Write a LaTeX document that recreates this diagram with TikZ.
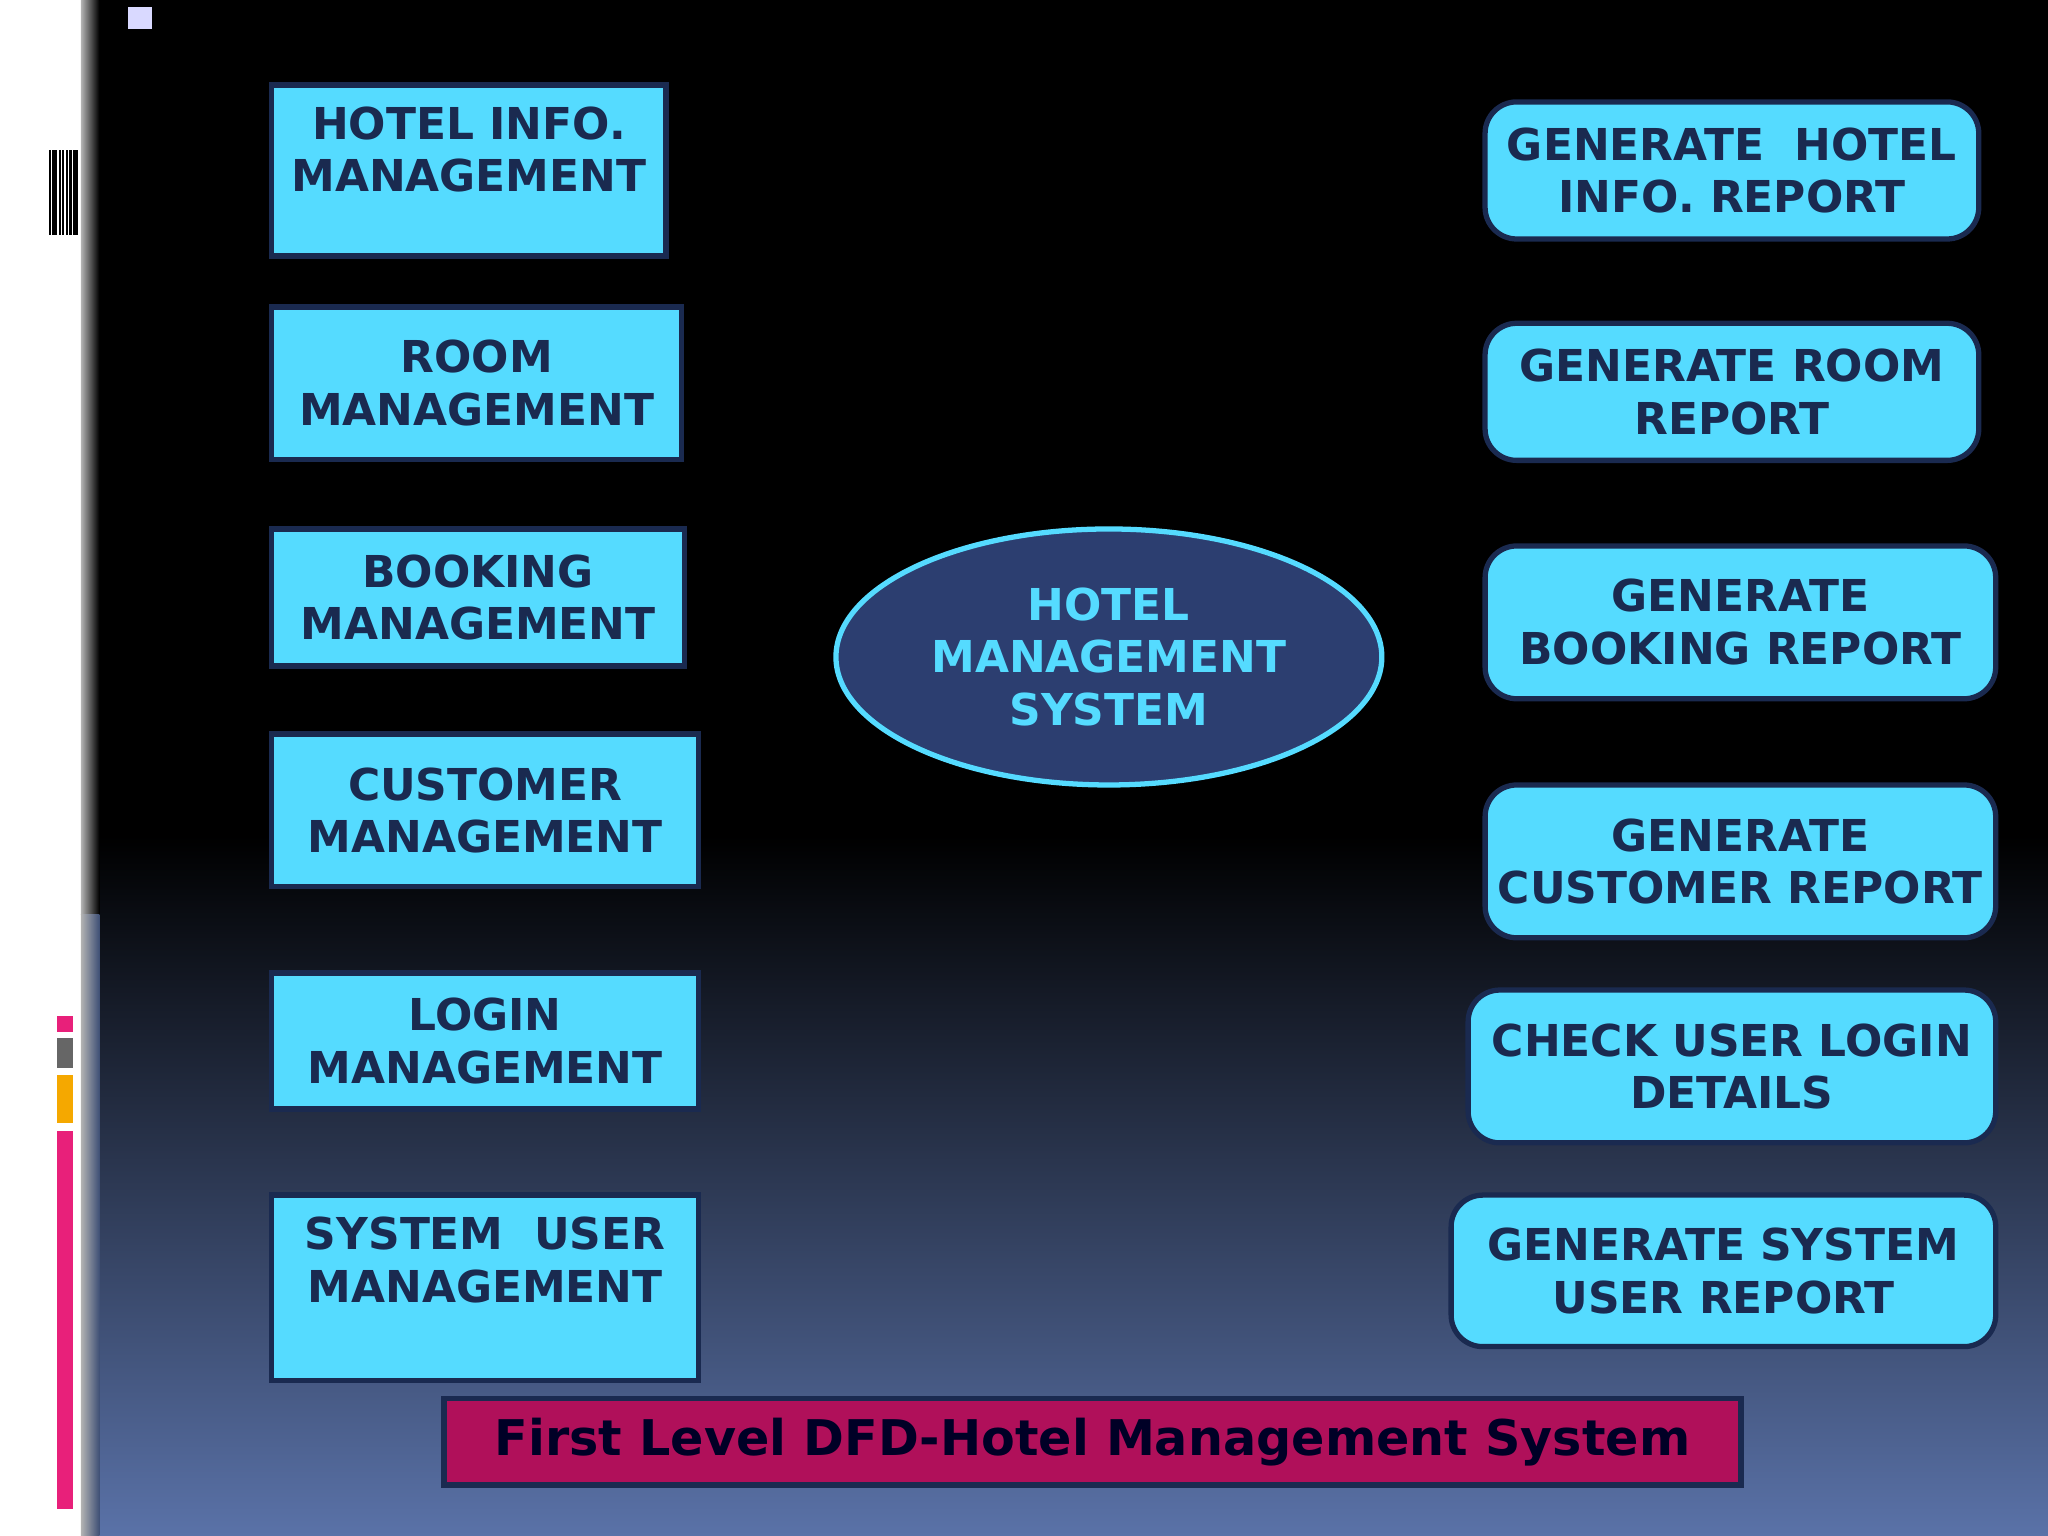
\documentclass[tikz,border=0pt]{standalone}
\usepackage{fontspec}
\setmainfont{DejaVu Sans}
\usetikzlibrary{shapes.geometric}
\definecolor{boxcyan}{HTML}{55DBFF}
\definecolor{boxline}{HTML}{1A2A50}
\definecolor{ovalfill}{HTML}{2C3E70}
\definecolor{captionfill}{HTML}{B0105A}
\definecolor{bottomblue}{HTML}{5A72A8}
\definecolor{barpink}{HTML}{E8207A}
\definecolor{barorange}{HTML}{F5A800}
\begin{document}
\begin{tikzpicture}[x=0.01306cm, y=-0.01306cm,
    every node/.style={font=\bfseries\fontsize{12.5}{15}\selectfont},
    inbox/.style={draw=boxline, line width=1.5pt, rectangle, fill=boxcyan, align=center, text=boxline},
    outbox/.style={draw=boxline, line width=1.5pt, rectangle, rounded corners=9pt, fill=boxcyan, align=center, text=boxline}]
    % Background
    \fill[black] (0,0) rectangle (1568,1176);
    \shade[top color=black, bottom color=bottomblue] (62,640) rectangle (1568,1176);
    \fill[white] (0,0) rectangle (62,1176);
    \shade[left color=gray!70, right color=black!0, opacity=0] (62,0) rectangle (64,1176);
    \shade[left color=gray!60, right color=black] (62,0) rectangle (76,700);
    \shade[left color=gray!60, right color=bottomblue!70!black] (62,700) rectangle (76,1176);
    \fill[white!85!blue] (98,5) rectangle (116,22);
    % Side marks
    \foreach \x in {38,41,43,46,48,51,54,57,59}
      \draw[black, line width=0.6pt] (\x,115) -- (\x,180);
    \fill[barpink] (44,778) rectangle (56,790);
    \fill[gray!80!black] (44,795) rectangle (56,818);
    \fill[barorange] (44,823) rectangle (56,860);
    \fill[barpink] (44,866) rectangle (56,1155);

    % Input processes
    \node[inbox, minimum width=3.944cm, minimum height=1.711cm,
      label={[anchor=north, yshift=-0.12cm, align=center, text=boxline]north:HOTEL INFO.\\MANAGEMENT}] (hotelinfo) at (359,130.5) {};
    \node[inbox, minimum width=4.10cm, minimum height=1.528cm] (room) at (365,293.5) {ROOM\\MANAGEMENT};
    \node[inbox, minimum width=4.127cm, minimum height=1.371cm] (booking) at (366,457.5) {BOOKING\\MANAGEMENT};
    \node[inbox, minimum width=4.271cm, minimum height=1.528cm] (customer) at (371.5,620.5) {CUSTOMER\\MANAGEMENT};
    \node[inbox, minimum width=4.271cm, minimum height=1.358cm] (login) at (371.5,797) {LOGIN\\MANAGEMENT};
    \node[inbox, minimum width=4.271cm, minimum height=1.855cm,
      label={[anchor=north, yshift=-0.12cm, align=center, text=boxline]north:SYSTEM\ \ USER\\MANAGEMENT}] (sysuser) at (371.5,986) {};

    % Central process
    \node[ellipse, draw=boxcyan, line width=1.5pt, fill=ovalfill, text=boxcyan, align=center,
      minimum width=5.459cm, minimum height=2.56cm] (hms) at (849,503) {HOTEL\\MANAGEMENT\\SYSTEM};

    % Reports
    \node[outbox, minimum width=4.937cm, minimum height=1.371cm] (hotelrep) at (1326,130.5) {GENERATE\ \ HOTEL\\INFO. REPORT};
    \node[outbox, minimum width=4.937cm, minimum height=1.371cm] (roomrep) at (1326,300) {GENERATE ROOM\\REPORT};
    \node[outbox, minimum width=5.106cm, minimum height=1.528cm] (bookrep) at (1332.5,476.5) {GENERATE\\BOOKING REPORT};
    \node[outbox, minimum width=5.106cm, minimum height=1.528cm] (custrep) at (1332.5,659.5) {GENERATE\\CUSTOMER REPORT};
    \node[outbox, minimum width=5.276cm, minimum height=1.528cm] (loginchk) at (1326,816.5) {CHECK USER LOGIN\\DETAILS};
    \node[outbox, minimum width=5.446cm, minimum height=1.515cm] (userrep) at (1319.5,973) {GENERATE SYSTEM\\USER REPORT};

    % Caption
    \node[draw=boxline, line width=1.5pt, fill=captionfill, text=black!85!blue,
      minimum width=12.97cm, minimum height=0.862cm, font=\bfseries\fontsize{14}{16}\selectfont] (caption) at (836.5,1104)
      {First Level DFD-Hotel Management System};
\end{tikzpicture}
\end{document}
